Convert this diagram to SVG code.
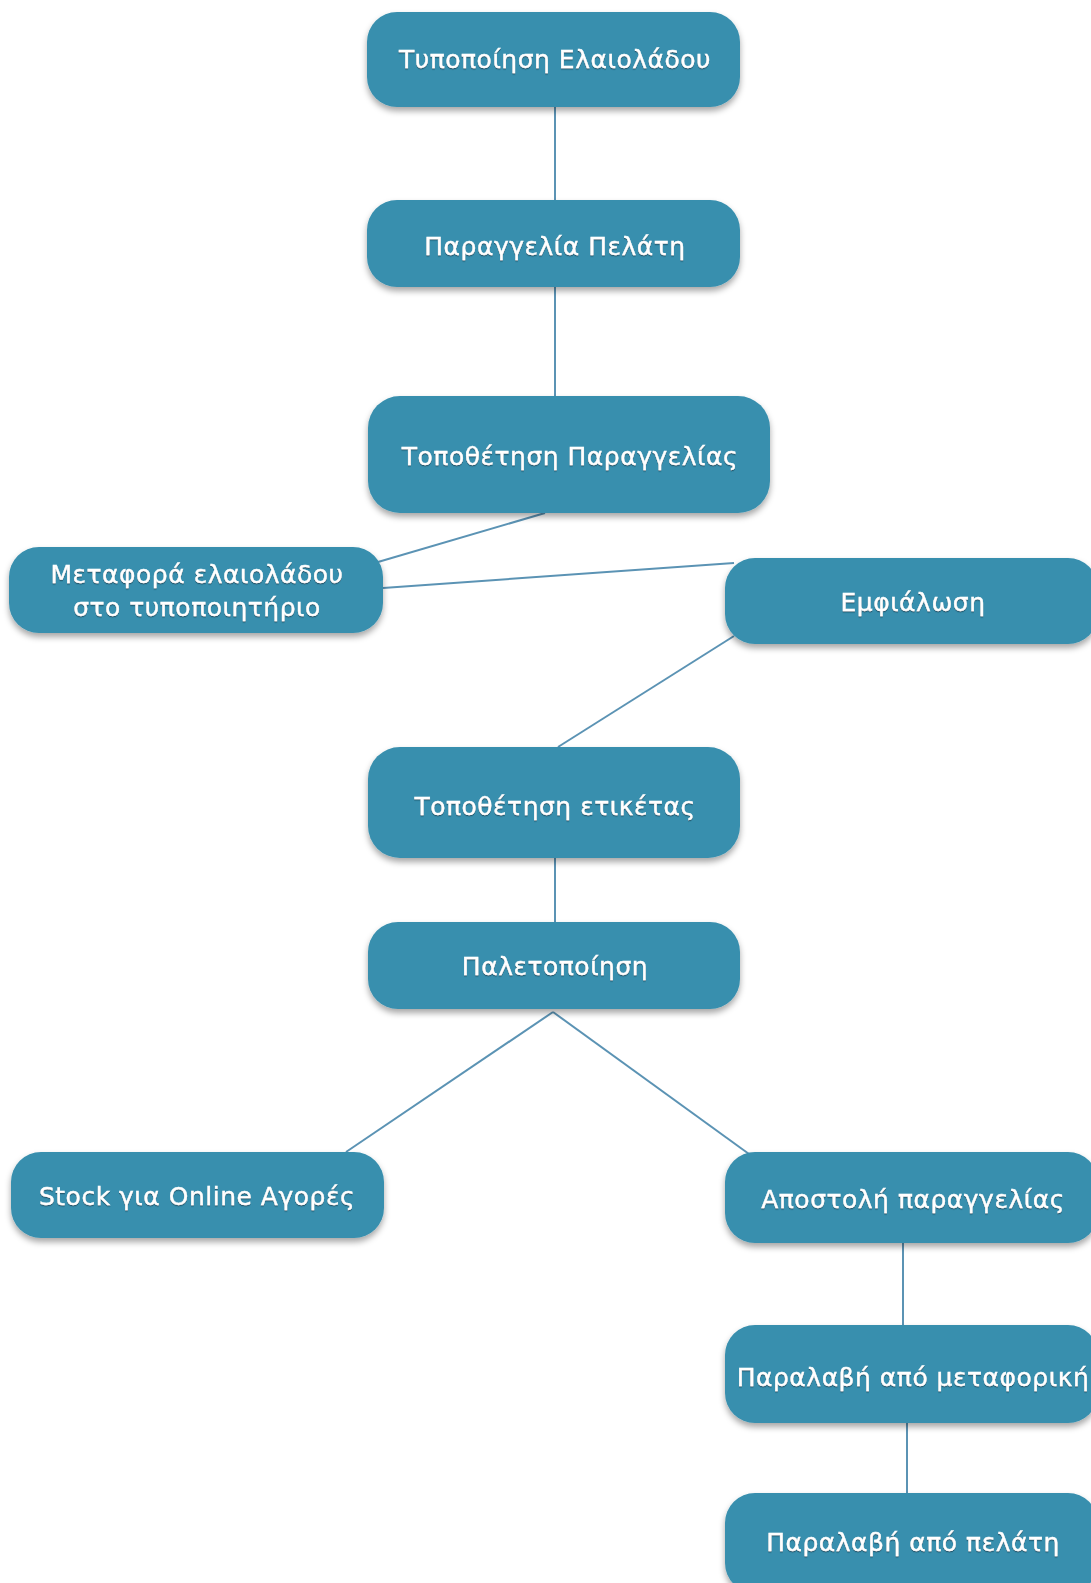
<svg xmlns="http://www.w3.org/2000/svg" width="1091" height="1583" viewBox="0 0 1091 1583">
  <defs>
    <filter id="shadow" x="-10%" y="-20%" width="120%" height="150%">
      <feDropShadow dx="0" dy="4" stdDeviation="3" flood-color="#000" flood-opacity="0.35"/>
    </filter>
    <filter id="tshadow" x="-5%" y="-30%" width="110%" height="160%">
      <feDropShadow dx="0" dy="1.2" stdDeviation="0.7" flood-color="#1d4f63" flood-opacity="0.85"/>
    </filter>
  </defs>
  <style>
    .box { fill: #388fae; filter: url(#shadow); }
    .lbl { fill: #ffffff; stroke: #ffffff; stroke-width: 0.35; font-family: "DejaVu Sans", "Liberation Sans", sans-serif; font-size: 25px; letter-spacing: 0.5px; text-anchor: middle; dominant-baseline: central; filter: url(#tshadow); }
    .edge { stroke: #5b93b4; stroke-width: 2; fill: none; }
  </style>
  <rect width="1091" height="1583" fill="#ffffff"/>

  <g id="connectors">
    <line class="edge" x1="555" y1="107" x2="555" y2="200"/>
    <line class="edge" x1="555" y1="287" x2="555" y2="396"/>
    <line class="edge" x1="545" y1="513" x2="378" y2="562"/>
    <line class="edge" x1="383" y1="588" x2="734" y2="563"/>
    <line class="edge" x1="734" y1="636" x2="558" y2="747"/>
    <line class="edge" x1="555" y1="858" x2="555" y2="922"/>
    <line class="edge" x1="553" y1="1012" x2="346" y2="1152"/>
    <line class="edge" x1="553" y1="1012" x2="749" y2="1154"/>
    <line class="edge" x1="903" y1="1243" x2="903" y2="1325"/>
    <line class="edge" x1="907" y1="1423" x2="907" y2="1493"/>
  </g>

  <g id="n1">
    <rect class="box" x="367" y="12" width="373" height="95" rx="30"/>
    <text class="lbl" x="555" y="59">Τυποποίηση Ελαιολάδου</text>
  </g>
  <g id="n2">
    <rect class="box" x="367" y="200" width="373" height="87" rx="30"/>
    <text class="lbl" x="555" y="246">Παραγγελία Πελάτη</text>
  </g>
  <g id="n3">
    <rect class="box" x="368" y="396" width="402" height="117" rx="32"/>
    <text class="lbl" x="570" y="456">Τοποθέτηση Παραγγελίας</text>
  </g>
  <g id="n4">
    <rect class="box" x="9" y="547" width="374" height="86" rx="30"/>
    <text class="lbl" x="197" y="574">Μεταφορά ελαιολάδου</text>
    <text class="lbl" x="197" y="607">στο τυποποιητήριο</text>
  </g>
  <g id="n5">
    <rect class="box" x="725" y="558" width="373" height="86" rx="30"/>
    <text class="lbl" x="913" y="602">Εμφιάλωση</text>
  </g>
  <g id="n6">
    <rect class="box" x="368" y="747" width="372" height="111" rx="32"/>
    <text class="lbl" x="555" y="806">Τοποθέτηση ετικέτας</text>
  </g>
  <g id="n7">
    <rect class="box" x="368" y="922" width="372" height="87" rx="30"/>
    <text class="lbl" x="555" y="966">Παλετοποίηση</text>
  </g>
  <g id="n8">
    <rect class="box" x="11" y="1152" width="373" height="86" rx="30"/>
    <text class="lbl" x="197" y="1196">Stock για Online Αγορές</text>
  </g>
  <g id="n9">
    <rect class="box" x="725" y="1152" width="373" height="91" rx="30"/>
    <text class="lbl" x="913" y="1199">Αποστολή παραγγελίας</text>
  </g>
  <g id="n10">
    <rect class="box" x="725" y="1325" width="373" height="98" rx="30"/>
    <text class="lbl" x="913" y="1377">Παραλαβή από μεταφορική</text>
  </g>
  <g id="n11">
    <rect class="box" x="725" y="1493" width="373" height="100" rx="30"/>
    <text class="lbl" x="913" y="1542">Παραλαβή από πελάτη</text>
  </g>
</svg>
